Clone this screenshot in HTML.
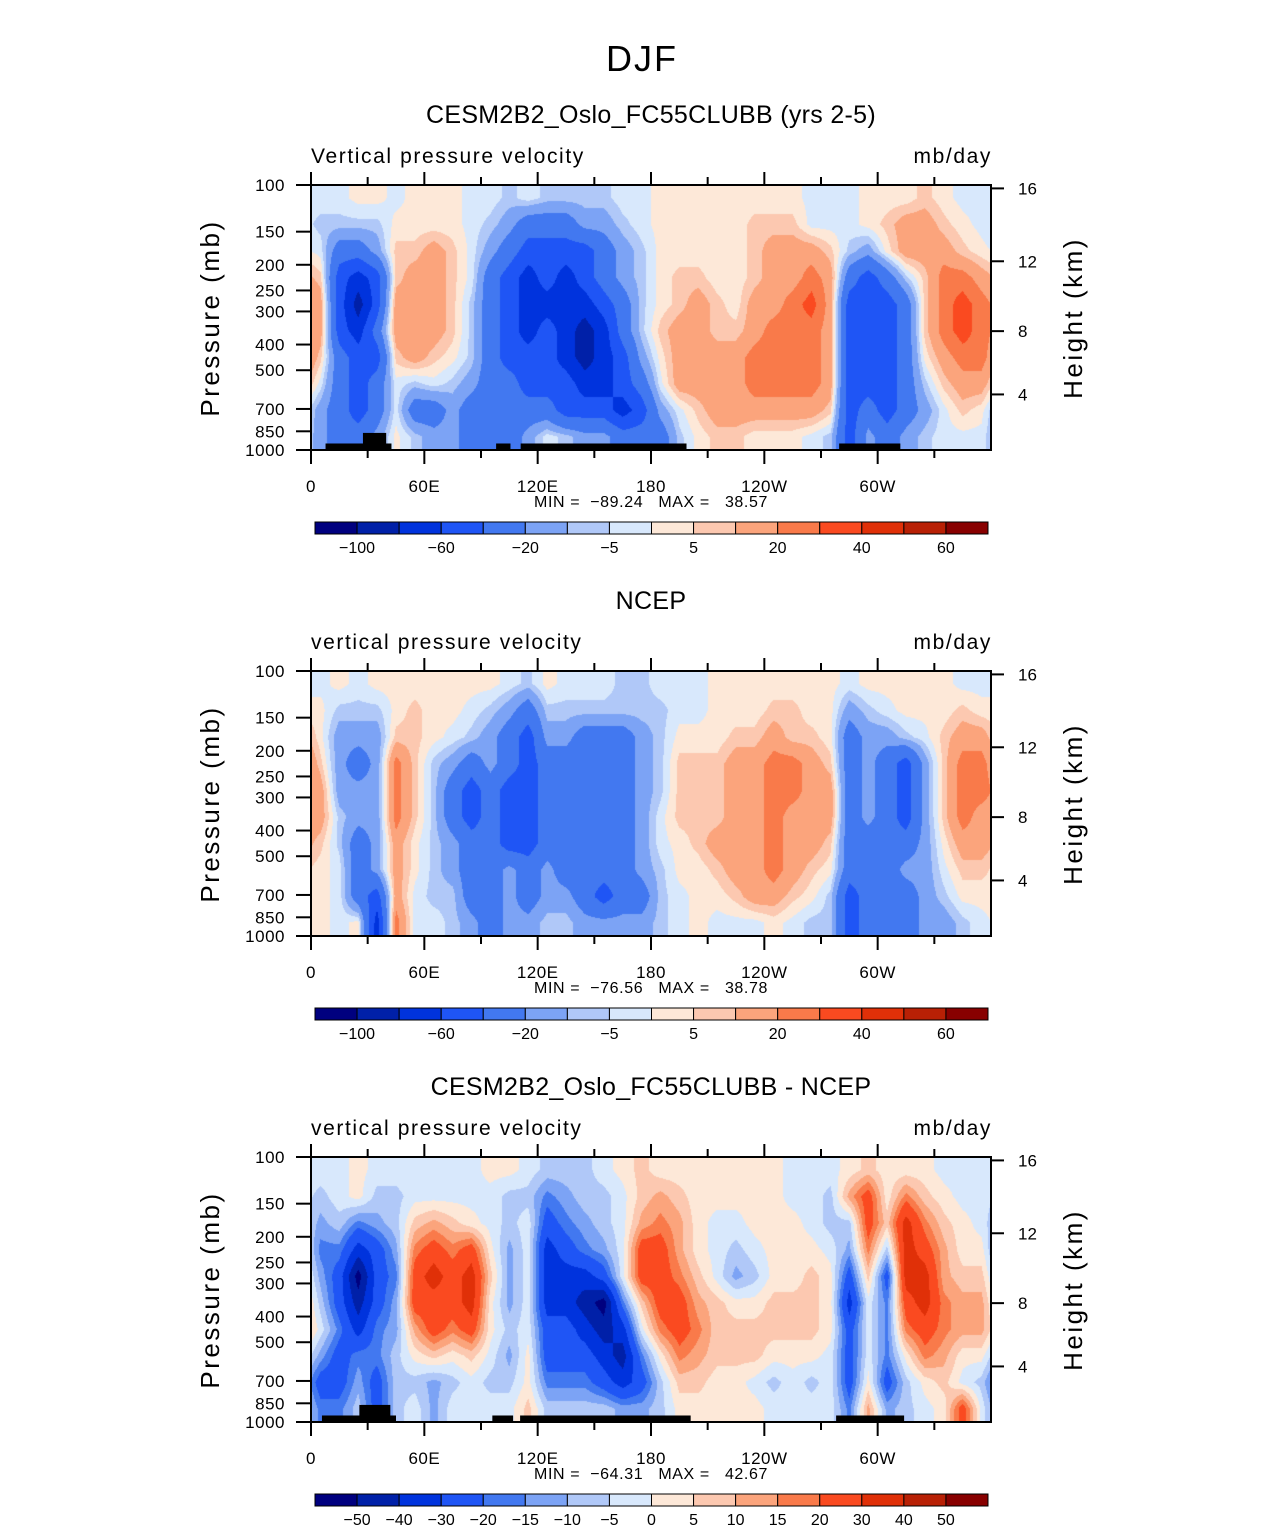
<!DOCTYPE html>
<html><head><meta charset="utf-8">
<style>
html,body{margin:0;padding:0;background:#fff;}
#wrap{position:relative;width:1285px;height:1531px;}
canvas{position:absolute;}
svg{display:block;position:absolute;left:0;top:0;}
text{font-family:"Liberation Sans",sans-serif;fill:#000;white-space:pre;}
</style></head>
<body>
<div id="wrap">
<svg id="fig" width="1285" height="1531" viewBox="0 0 1285 1531" xmlns="http://www.w3.org/2000/svg">
<text x="642" y="71" font-size="36" text-anchor="middle" font-weight="300" letter-spacing="2">DJF</text>
</svg>
</div>
<script>
// ---- data ----
const lonCenters = [5,15,25,35,45,55,65,75,85,95,105,115,125,135,145,155,165,175,185,195,205,215,225,235,245,255,265,275,285,295,305,315,325,335,345,355];
const pressureLevels = [112,141,178,224,282,355,447,562,708,891];
const lonTicks = [0,60,120,180,240,300];
const lonTickLabels = ["0","60E","120E","180","120W","60W"];
const presTicks = [100,150,200,250,300,400,500,700,850,1000];
const heightTicks = [4,8,12,16];
const heightTickPress = [617,356,194,103];
const levelsAbs = [-100,-80,-60,-40,-20,-10,-5,0,5,10,20,30,40,50,60];
const levelLabelsAbs = ["−100","","−60","","−20","","−5","","5","","20","","40","","60"];
const levelsDiff = [-50,-40,-30,-20,-15,-10,-5,0,5,10,15,20,30,40,50];
const levelLabelsDiff = ["−50","−40","−30","−20","−15","−10","−5","0","5","10","15","20","30","40","50"];
const palette = ["#00007f","#0020a8","#0033dd","#1f55f5","#4278f0","#7ca3f5","#b0c8f8","#d8e8fc","#fde8d8","#fcc8b0","#fba47c","#f97a4a","#fa4a20","#e03008","#b82005","#880000"];

const modelField = [
[-2,-2,2,2,-2,2,2,2,-2,-2,-7,-2,-7,-7,-7,-7,-2,-2,2,2,2,2,2,2,2,2,-2,-2,-2,2,2,2,7,2,-2,-2],
[-7,-7,-7,-7,2,2,2,2,-2,-7,-15,-30,-30,-30,-15,-15,-7,-2,2,2,2,2,2,7,7,7,-2,-2,-2,2,7,15,15,7,2,-2],
[-2,-30,-30,-15,7,7,15,7,-2,-15,-30,-50,-50,-50,-50,-30,-15,-7,2,2,2,2,2,7,15,15,15,7,-7,-15,2,15,15,15,7,2],
[7,-50,-70,-50,7,15,15,7,-2,-30,-50,-70,-50,-70,-50,-30,-15,-7,2,7,7,2,2,7,15,15,25,15,-30,-50,-30,-7,7,25,25,15],
[15,-50,-90,-50,15,15,15,7,-7,-30,-50,-70,-70,-70,-70,-50,-30,-7,2,7,15,7,2,15,15,25,35,15,-50,-50,-50,-30,7,25,35,25],
[15,-50,-70,-30,15,15,15,7,-7,-30,-50,-70,-50,-70,-90,-70,-30,-7,7,15,15,7,7,15,25,25,25,15,-50,-50,-50,-30,7,25,35,25],
[7,-30,-50,-50,7,15,7,2,-7,-30,-50,-50,-50,-70,-90,-70,-50,-15,2,15,15,15,15,25,25,25,25,15,-50,-50,-50,-30,2,15,25,25],
[-2,-30,-50,-30,-2,-7,-2,-7,-15,-30,-30,-50,-50,-50,-70,-70,-50,-30,-2,15,15,15,15,25,25,25,25,15,-50,-50,-50,-30,-7,7,15,15],
[-15,-30,-50,-30,-2,-30,-30,-15,-30,-30,-30,-30,-30,-50,-50,-50,-70,-50,-15,-2,7,15,15,15,15,15,15,7,-50,-30,-50,-30,-15,-2,7,2],
[-15,-30,-30,-15,2,-7,-15,-15,-30,-30,-30,-15,-2,-7,-15,-15,-30,-30,-30,-7,2,7,7,2,2,2,-2,-7,-50,-15,-30,-15,-7,-2,-2,-2]];

const obsField = [
[-2,2,-2,2,2,2,2,2,2,2,-2,-7,2,-2,-2,-2,-7,-7,-2,-2,-2,2,2,2,2,2,2,2,-2,2,2,2,2,2,-2,-2],
[2,-7,-7,-7,2,7,2,2,-2,-7,-15,-30,-7,-7,-7,-7,-7,-7,-7,-2,-2,2,2,2,7,7,2,2,-15,-7,-2,2,2,2,7,2],
[2,-15,-15,-15,7,7,2,-2,-7,-15,-30,-50,-15,-15,-30,-30,-30,-15,-7,2,2,2,7,7,15,7,7,2,-30,-15,-15,-7,-2,7,15,15],
[7,-15,-30,-15,25,7,-7,-15,-30,-15,-30,-50,-30,-30,-30,-30,-30,-15,-7,7,7,7,15,15,25,25,15,7,-30,-15,-30,-50,-15,7,25,25],
[15,-15,-15,-15,25,7,-7,-30,-50,-30,-50,-50,-30,-30,-30,-30,-30,-15,-7,7,7,7,15,15,25,25,15,15,-30,-15,-30,-50,-15,7,25,25],
[15,-7,-15,-15,25,7,-7,-30,-50,-30,-50,-50,-30,-30,-30,-30,-30,-15,-2,7,7,7,15,15,25,15,15,15,-30,-15,-30,-50,-15,7,25,15],
[7,-7,-30,-15,15,2,-7,-15,-30,-30,-50,-50,-30,-30,-30,-30,-30,-15,-2,2,7,15,15,15,25,15,15,7,-30,-30,-30,-30,-15,2,15,15],
[2,-2,-30,-15,15,2,-7,-15,-30,-30,-15,-30,-15,-30,-30,-30,-30,-15,-7,2,2,7,15,15,25,15,7,2,-30,-30,-30,-15,-15,-2,7,7],
[2,-2,-30,-50,15,-2,-7,-7,-30,-30,-15,-30,-15,-15,-30,-50,-30,-30,-7,-2,2,2,7,15,15,7,2,-7,-50,-30,-30,-30,-15,-7,2,2],
[2,-2,2,-70,25,-2,-2,-7,-15,-30,-15,-15,-7,-7,-15,-15,-15,-15,-7,-2,2,-2,-2,-2,2,-2,-7,-7,-50,-30,-30,-30,-15,-15,-7,-2]];

const diffField = [
[-2,-2,2,-2,-2,-2,-2,-2,-2,2,2,-2,-7,-7,-7,-2,2,7,2,2,2,2,2,2,2,-2,-2,-2,2,7,2,2,2,-2,-2,-2],
[-7,-2,2,-7,-7,-2,-2,-2,-2,-2,-7,-7,-17,-12,-7,-7,-2,7,12,7,2,2,2,2,2,-2,-2,-7,12,25,2,17,7,2,-2,-2],
[-12,-7,-17,-12,-7,7,12,7,2,-2,-7,-2,-25,-17,-12,-7,-2,12,17,12,2,-2,-2,2,2,2,-2,-7,-7,25,7,35,17,7,2,-2],
[-17,-17,-35,-25,-12,17,25,17,25,2,-12,-2,-35,-25,-17,-12,-2,25,25,12,2,-2,-7,-2,2,2,2,-2,-12,17,-7,35,25,12,2,2],
[-12,-25,-55,-25,-17,25,35,25,35,7,-12,-2,-35,-35,-35,-25,-2,25,25,17,7,-2,-12,-7,2,2,7,2,-25,7,-25,35,35,12,7,7],
[-7,-25,-45,-25,-12,25,25,25,35,2,-12,-2,-35,-35,-45,-55,-17,7,25,25,12,7,2,2,7,7,7,2,-35,-2,-17,25,35,17,12,12],
[-2,-17,-35,-17,-12,12,25,17,25,2,-7,-2,-25,-25,-35,-45,-35,-2,17,25,17,7,7,7,7,7,7,2,-25,-2,-17,17,25,17,12,12],
[-12,-25,-17,-17,-7,2,7,2,7,-2,-12,2,-25,-25,-25,-35,-45,-17,2,17,12,7,7,7,2,2,2,-2,-25,-2,-17,2,17,12,2,2],
[-25,-25,-12,-25,-7,-7,-12,-7,-2,-7,-7,2,-17,-17,-17,-25,-35,-25,-7,7,7,2,2,-2,-7,-2,-7,-2,-25,2,-25,-7,2,7,-2,-7],
[-17,-17,-7,-25,-7,-2,-12,-2,-2,-2,-2,7,-7,-7,-7,-7,-12,-12,-7,2,2,2,2,2,-2,-2,-2,-2,-17,12,-12,-7,-2,2,25,-2]];

const landMaskA = [[7.7,42.6,945],[27.5,39.8,862],[98,105.6,945],[111,198.8,945],[279.6,312,945]];
const landMaskB = [[5.8,45,945],[25.6,42,862],[96,107,945],[110.7,201,945],[278,314,945]];

// ---- drawing ----
const svg = document.getElementById('fig');
const wrap = document.getElementById('wrap');
const NS = 'http://www.w3.org/2000/svg';
function mk(tag, attrs, parent){ const e=document.createElementNS(NS,tag); for(const k in attrs) e.setAttribute(k,attrs[k]); (parent||svg).appendChild(e); return e; }
const X0=311, X1=991, PH=265;
function xScale(lon){ return X0 + (X1-X0)*lon/360; }
function yScale(p, top){ return top + PH*(Math.log10(p)-2); }
function colorIdx(v, levels){ let i=0; while(i<levels.length && v>=levels[i]) i++; return i; }
function hexRgb(h){ return [parseInt(h.slice(1,3),16),parseInt(h.slice(3,5),16),parseInt(h.slice(5,7),16)]; }
const palRgb = palette.map(hexRgb);

function drawField(field, levels, top){
  const W=X1-X0, H=PH;
  const cv=document.createElement('canvas');
  cv.width=W; cv.height=H;
  cv.style.left=X0+'px'; cv.style.top=top+'px';
  
  
  wrap.insertBefore(cv, svg);
  const ctx=cv.getContext('2d');
  const img=ctx.createImageData(W,H);
  const nC=lonCenters.length, nR=pressureLevels.length;
  const lp=pressureLevels.map(p=>Math.log10(p));
  for(let py=0;py<H;py++){
    const logp=2+(py+0.5)/H;
    let fr;
    if(logp<=lp[0]) fr=0; else if(logp>=lp[nR-1]) fr=nR-1;
    else { let k=0; while(lp[k+1]<logp) k++; fr=k+(logp-lp[k])/(lp[k+1]-lp[k]); }
    const r0=Math.floor(fr), r1=Math.min(nR-1,r0+1), ty=fr-r0;
    for(let px=0;px<W;px++){
      const lon=(px+0.5)/W*360;
      let fc=(lon-lonCenters[0])/(lonCenters[1]-lonCenters[0]);
      let c0=Math.floor(fc); const tx=fc-c0;
      const c1=((c0+1)%nC+nC)%nC; c0=((c0%nC)+nC)%nC;
      const v=(1-ty)*((1-tx)*field[r0][c0]+tx*field[r0][c1])+ty*((1-tx)*field[r1][c0]+tx*field[r1][c1]);
      const col=palRgb[colorIdx(v,levels)];
      const o=(py*W+px)*4;
      img.data[o]=col[0]; img.data[o+1]=col[1]; img.data[o+2]=col[2]; img.data[o+3]=255;
    }
  }
  ctx.putImageData(img,0,0);
}

function panel(o){
  const top=o.top;
  drawField(o.field,o.levels,top);
  const g=mk('g',{});
  
  
  const t=mk('text',{x:651,y:top-62,'font-size':25,'text-anchor':'middle','letter-spacing':'0.3'},g); t.textContent=o.title;
   
  const lt=mk('text',{x:311,y:top-22,'font-size':21,'letter-spacing':'1.6'},g); lt.textContent=o.left;
   
  const rt=mk('text',{x:992,y:top-22,'font-size':21,'text-anchor':'end','letter-spacing':'1.6'},g); rt.textContent='mb/day';
   
  (o.mask||[]).forEach(m=>{
    const b=mk('rect',{x:xScale(m[0]),y:yScale(m[2],top),width:xScale(m[1])-xScale(m[0]),height:top+PH-yScale(m[2],top),fill:'#000'},g);
     
  });
  const fr=mk('rect',{x:X0,y:top,width:X1-X0,height:PH,fill:'none',stroke:'#000','stroke-width':2},g);
   
  for(let l=0;l<=330;l+=30){
    const x=xScale(l), major=l%60===0;
    mk('line',{x1:x,x2:x,y1:top,y2:top-(major?13:8),stroke:'#000','stroke-width':2},g);
    mk('line',{x1:x,x2:x,y1:top+PH,y2:top+PH+(major?14:8),stroke:'#000','stroke-width':2},g);
  }
  lonTicks.forEach((l,i)=>{
    const tx=mk('text',{x:xScale(l),y:top+PH+42,'font-size':17,'text-anchor':'middle','letter-spacing':'0.5'},g); tx.textContent=lonTickLabels[i];
     
  });
  const mm=mk('text',{x:651,y:top+PH+57,'font-size':16,'text-anchor':'middle','letter-spacing':'0.6'},g); mm.textContent=o.minmax;
   
  presTicks.forEach(p=>{
    const y=yScale(p,top);
    mk('line',{x1:X0-15,x2:X0,y1:y,y2:y,stroke:'#000','stroke-width':2},g);
    const tx=mk('text',{x:285,y:y+6,'font-size':17,'text-anchor':'end','letter-spacing':'0.5'},g); tx.textContent=String(p);
     
  });
  heightTicks.forEach((h,i)=>{
    const y=yScale(heightTickPress[i],top);
    mk('line',{x1:X1,x2:X1+13,y1:y,y2:y,stroke:'#000','stroke-width':2},g);
    const tx=mk('text',{x:1018,y:y+6,'font-size':17},g); tx.textContent=String(h);
     
  });
  const ya=mk('text',{x:0,y:0,'font-size':26,'text-anchor':'middle','letter-spacing':'2.5',transform:`translate(219,${top+133}) rotate(-90)`},g); ya.textContent='Pressure (mb)';
   
  const ha=mk('text',{x:0,y:0,'font-size':26,'text-anchor':'middle','letter-spacing':'2.5',transform:`translate(1082,${top+133}) rotate(-90)`},g); ha.textContent='Height (km)';
   
  const cbTop=top+337, cbX0=315, cbW=(988-315)/16;
  const cb=mk('g',{},g);
   
  palette.forEach((c,i)=>{
    const r=mk('rect',{x:cbX0+i*cbW,y:cbTop,width:cbW,height:12,fill:c,stroke:'#000','stroke-width':1},cb);
     
  });
  o.labels.forEach((s,i)=>{
    if(!s) return;
    const tx=mk('text',{x:cbX0+(i+1)*cbW,y:cbTop+31,'font-size':16,'text-anchor':'middle'},cb); tx.textContent=s;
     
  });
}
panel({name:'model-panel',top:185,title:'CESM2B2_Oslo_FC55CLUBB (yrs 2-5)',left:'Vertical pressure velocity',field:modelField,levels:levelsAbs,labels:levelLabelsAbs,mask:landMaskA,minmax:'MIN =  −89.24   MAX =   38.57'});
panel({name:'ncep-panel',top:671,title:'NCEP',left:'vertical pressure velocity',field:obsField,levels:levelsAbs,labels:levelLabelsAbs,mask:[],minmax:'MIN =  −76.56   MAX =   38.78'});
panel({name:'difference-panel',top:1157,title:'CESM2B2_Oslo_FC55CLUBB - NCEP',left:'vertical pressure velocity',field:diffField,levels:levelsDiff,labels:levelLabelsDiff,mask:landMaskB,minmax:'MIN =  −64.31   MAX =   42.67'});
</script>
</body></html>
